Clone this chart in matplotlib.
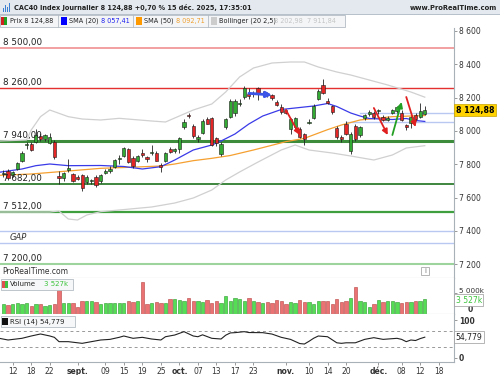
import matplotlib
matplotlib.use('Agg')
import matplotlib.pyplot as plt
from matplotlib.patches import Rectangle
import pandas as pd

# trading days on the axis (Euronext open every weekday in this span)
days = pd.bdate_range('2025-08-07', '2025-12-19')
candle_dates = pd.bdate_range('2025-08-08', '2025-12-15')

opens = [7740, 7758, 7735, 7772, 7822, 7916, 7925, 7936, 7972, 7950, 7930, 7936, 7728, 7716,
         7766, 7742, 7724, 7735, 7696, 7700, 7725, 7700, 7750, 7760, 7785, 7832, 7850, 7890,
         7840, 7822, 7870, 7846, 7868, 7870, 7796, 7822, 7894, 7880, 7890, 8026, 8096, 8030,
         7950, 7986, 8072, 8076, 7956, 7862, 8022, 8086, 8110, 8160, 8202, 8222, 8222, 8256,
         8226, 8222, 8215, 8176, 8146, 8126, 8010, 8022, 8010, 7982, 8046, 8076, 8190, 8276,
         8182, 8148, 8016, 7966, 8040, 7880, 8030, 7976, 8076, 8100, 8106, 8118, 8086, 8066,
         8106, 8120, 8110, 8036, 8050, 8096, 8085, 8105]
highs = [7765, 7770, 7760, 7812, 7878, 7935, 7932, 8010, 7990, 7985, 7990, 7945, 7760, 7755,
         7835, 7750, 7735, 7745, 7735, 7712, 7735, 7740, 7775, 7790, 7830, 7856, 7905, 7898,
         7848, 7858, 7890, 7852, 7916, 7878, 7810, 7875, 7905, 7900, 7965, 8070, 8110, 8040,
         7975, 8070, 8085, 8085, 7965, 7935, 8080, 8190, 8195, 8190, 8270, 8258, 8240, 8262,
         8240, 8232, 8225, 8185, 8160, 8135, 8078, 8085, 8025, 7990, 8070, 8160, 8250, 8310,
         8200, 8155, 8030, 7975, 8060, 7995, 8040, 8030, 8105, 8125, 8118, 8130, 8095, 8090,
         8130, 8150, 8125, 8045, 8090, 8110, 8166, 8150]
lows = [7725, 7705, 7725, 7765, 7815, 7895, 7880, 7930, 7940, 7940, 7925, 7835, 7680, 7700,
        7755, 7695, 7705, 7640, 7685, 7685, 7665, 7690, 7740, 7750, 7780, 7800, 7845, 7810,
        7780, 7815, 7845, 7815, 7856, 7818, 7756, 7815, 7868, 7870, 7870, 8015, 8080, 7960,
        7935, 7980, 8040, 7910, 7910, 7850, 8015, 8080, 8090, 8150, 8195, 8190, 8205, 8185,
        8215, 8205, 8185, 8150, 8105, 8100, 7985, 8010, 7960, 7915, 8040, 8070, 8185, 8225,
        8160, 8105, 7955, 7935, 7975, 7860, 7940, 7965, 8065, 8090, 8075, 8105, 8060, 8060,
        8100, 8110, 8060, 8005, 8020, 8060, 8080, 8095]
closes = [7748, 7716, 7752, 7806, 7870, 7925, 7888, 7976, 7955, 7975, 7966, 7842, 7716, 7746,
          7776, 7702, 7712, 7658, 7724, 7706, 7676, 7734, 7758, 7770, 7826, 7838, 7896, 7816,
          7788, 7850, 7856, 7830, 7874, 7822, 7786, 7870, 7876, 7895, 7960, 8056, 8088, 7968,
          7962, 8062, 8044, 7918, 7930, 7922, 8070, 8182, 8180, 8170, 8256, 8210, 8230, 8222,
          8229, 8218, 8200, 8156, 8116, 8110, 8070, 8076, 7966, 7950, 8056, 8150, 8242, 8230,
          8166, 8116, 7966, 7950, 7982, 7985, 7950, 8022, 8096, 8112, 8082, 8124, 8066, 8080,
          8126, 8146, 8066, 8022, 8086, 8070, 8120, 8124.88]
volumes_k = [2380, 2140, 2380, 2540, 2380, 2540, 1980, 2380, 2460, 1980, 2140, 2380, 5710, 2700,
             2700, 2600, 1590, 3170, 3010, 3170, 2780, 2380, 2700, 2700, 2700, 2700, 2540, 3170,
             2780, 3170, 7700, 2380, 2700, 2860, 2700, 2540, 3480, 3480, 3250, 3170, 3880, 3170,
             3170, 2780, 3250, 2700, 3170, 2700, 4360, 3170, 3730, 3570, 3170, 3880, 3170, 2780,
             2540, 2780, 2700, 3330, 3170, 2380, 2780, 2700, 3330, 2780, 2780, 2380, 3170, 3010,
             3010, 2380, 3570, 2780, 3170, 3730, 6500, 3170, 2780, 1590, 2380, 3330, 2860, 3010,
             3010, 2780, 2540, 2860, 2780, 3170, 3010, 3527]

sma20_dates = ['2025-08-07', '2025-08-14', '2025-08-19', '2025-08-22', '2025-08-28', '2025-09-08',
               '2025-09-15', '2025-09-19', '2025-09-25', '2025-09-30', '2025-10-06', '2025-10-10',
               '2025-10-14', '2025-10-17', '2025-10-22', '2025-10-27', '2025-10-31', '2025-11-06',
               '2025-11-11', '2025-11-14', '2025-11-18', '2025-11-21', '2025-11-25', '2025-11-27',
               '2025-12-04', '2025-12-09', '2025-12-11', '2025-12-15']
sma20 = [7752, 7772, 7792, 7802, 7792, 7793, 7787, 7772, 7786, 7826, 7886, 7916, 7940, 7982,
         8042, 8090, 8129, 8141, 8150, 8165, 8147, 8108, 8090, 8075, 8069, 8075, 8063, 8057.41]

sma50_dates = ['2025-08-07', '2025-08-18', '2025-08-28', '2025-09-08', '2025-09-16', '2025-09-25',
               '2025-09-30', '2025-10-06', '2025-10-10', '2025-10-16', '2025-10-23', '2025-11-03',
               '2025-11-07', '2025-11-14', '2025-11-19', '2025-11-25', '2025-12-04', '2025-12-15']
sma50 = [7734, 7742, 7760, 7776, 7782, 7790, 7802, 7822, 7836, 7853, 7886, 7936, 7956, 8008,
         8036, 8066, 8086, 8092.71]

bb_up_dates = ['2025-08-07', '2025-08-15', '2025-08-18', '2025-08-20', '2025-08-22', '2025-08-28',
               '2025-09-02', '2025-09-08', '2025-09-12', '2025-09-23', '2025-09-26', '2025-10-01',
               '2025-10-06', '2025-10-10', '2025-10-15', '2025-10-20', '2025-10-23', '2025-10-29',
               '2025-11-04', '2025-11-07', '2025-11-12', '2025-11-18', '2025-11-21', '2025-11-27',
               '2025-12-03', '2025-12-10', '2025-12-15']
bb_up = [7940, 7946, 8006, 8086, 8126, 8086, 8072, 8066, 8076, 8060, 8054, 8090, 8126, 8162,
         8234, 8324, 8378, 8408, 8414, 8414, 8384, 8354, 8336, 8306, 8276, 8234, 8202.98]

bb_low_dates = ['2025-08-07', '2025-08-22', '2025-08-26', '2025-08-28', '2025-09-01', '2025-09-03',
                '2025-09-08', '2025-09-12', '2025-09-23', '2025-09-30', '2025-10-06', '2025-10-10',
                '2025-10-15', '2025-10-20', '2025-10-24', '2025-10-31', '2025-11-05', '2025-11-10',
                '2025-11-17', '2025-11-21', '2025-11-28', '2025-12-04', '2025-12-09', '2025-12-15']
bb_low = [7514, 7514, 7520, 7472, 7466, 7496, 7516, 7526, 7544, 7568, 7598, 7646, 7706, 7754,
          7814, 7886, 7916, 7886, 7868, 7850, 7826, 7856, 7898, 7911.84]

rsi_dates = ['2025-08-07', '2025-08-11', '2025-08-14', '2025-08-18', '2025-08-20', '2025-08-22',
             '2025-08-25', '2025-08-26', '2025-08-28', '2025-09-02', '2025-09-04', '2025-09-08',
             '2025-09-10', '2025-09-12', '2025-09-15', '2025-09-17', '2025-09-19', '2025-09-23',
             '2025-09-25', '2025-09-26', '2025-09-30', '2025-10-02', '2025-10-06', '2025-10-07',
             '2025-10-08', '2025-10-10', '2025-10-14', '2025-10-15', '2025-10-16', '2025-10-17',
             '2025-10-21', '2025-10-22', '2025-10-27', '2025-10-29', '2025-10-31', '2025-11-04',
             '2025-11-06', '2025-11-07', '2025-11-10', '2025-11-11', '2025-11-12', '2025-11-14',
             '2025-11-18', '2025-11-19', '2025-11-20', '2025-11-24', '2025-11-26', '2025-11-28',
             '2025-12-02', '2025-12-05', '2025-12-08', '2025-12-09', '2025-12-10', '2025-12-11',
             '2025-12-12', '2025-12-15']
rsi = [52, 47.4, 51.8, 57.9, 63.2, 58, 54.4, 43, 43, 38.6, 43, 47.4, 49, 54.4, 57.9, 51.8, 54.4,
       50, 47.4, 56, 60.5, 69.3, 57.9, 56, 61, 51.8, 50, 60, 66, 66.7, 69.3, 67, 66.7, 63, 54.4,
       49, 38, 36.8, 44, 52, 57.9, 56, 40, 38.6, 40, 40, 49, 53.5, 49, 51.8, 49, 43, 47.4, 46,
       51, 54.779]

# horizontal levels drawn by the user: price, colour, width, label
level_prices = [8500, 8260, 7940, 7682, 7512, 7200]
level_colors = ['#f2a0a0', '#e53030', '#3c8c3c', '#2f7d2f', '#3f9f3f', '#9dd49d']
level_widths = [1.4, 1.0, 2.2, 1.3, 1.6, 1.5]
level_labels = ['8 500,00', '8 260,00', '7 940,00', '7 682,00', '7 512,00', '7 200,00']
gap_prices = [7400, 7326]
short_line_dates = ['2025-11-25', '2025-11-20']
short_line_prices = [8108, 8052]

arrow_from = [('2025-10-22', 8226), ('2025-11-03', 8126), ('2025-11-28', 8138),
              ('2025-12-04', 7976), ('2025-12-09', 8204)]
arrow_to = [('2025-10-29', 8216), ('2025-11-06', 7976), ('2025-12-03', 7976),
            ('2025-12-08', 8174), ('2025-12-11', 8024)]
arrow_colors = ['#3a55e8', '#e02020', '#e02020', '#23a023', '#e02020']
arrow_widths = [2.0, 1.3, 1.3, 1.3, 1.3]

tick_dates = ['2025-08-12', '2025-08-18', '2025-08-22', '2025-09-01', '2025-09-09', '2025-09-15',
              '2025-09-19', '2025-09-25', '2025-10-01', '2025-10-07', '2025-10-13', '2025-10-17',
              '2025-10-23', '2025-11-03', '2025-11-10', '2025-11-14', '2025-11-20', '2025-12-01',
              '2025-12-08', '2025-12-12', '2025-12-18']
tick_labels = ['12', '18', '22', 'sept.', '09', '15', '19', '25', 'oct.', '07', '13', '17', '23',
               'nov.', '10', '14', '20', 'déc.', '08', '12', '18']


def pos(dates):
    return days.get_indexer(pd.to_datetime(dates))


def fpx(x, y):
    return x / 500, 1 - y / 375


def box(fig, x, y, w, h, fc, ec='none', lw=0.6, z=3):
    fig.add_artist(Rectangle((x / 500, 1 - (y + h) / 375), w / 500, h / 375,
                             transform=fig.transFigure, facecolor=fc, edgecolor=ec,
                             linewidth=lw, zorder=z))


def main():
    W, H = 500, 375
    fig = plt.figure(figsize=(5, 3.75), dpi=100)
    fig.patch.set_facecolor('white')
    ax = fig.add_axes([0, 1 - 278 / H, 454 / W, 250 / H])
    axv = fig.add_axes([0, 1 - 314 / H, 454 / W, 36 / H], sharex=ax)
    axr = fig.add_axes([0, 1 - 362 / H, 454 / W, 48 / H], sharex=ax)

    x = pos(candle_dates)
    up = [c >= o for o, c in zip(opens, closes)]
    body_col = ['#33aa33' if u else '#e52626' for u in up]

    # price panel
    for p, c, lw in zip(level_prices, level_colors, level_widths):
        ax.axhline(p, color=c, lw=lw, zorder=1)
    for p in gap_prices:
        ax.axhline(p, color='#b8c8f0', lw=1.0, zorder=1)
    for d, p in zip(short_line_dates, short_line_prices):
        ax.plot([pos([d])[0], 200], [p, p], color='#b8c8f0', lw=1.0, zorder=1)

    ax.plot(pos(bb_up_dates), bb_up, color='#d0d0d0', lw=0.9, zorder=2)
    ax.plot(pos(bb_low_dates), bb_low, color='#d0d0d0', lw=0.9, zorder=2)
    ax.plot(pos(sma50_dates), sma50, color='#f5a030', lw=0.9, zorder=2)
    ax.plot(pos(sma20_dates), sma20, color='#3a3ae8', lw=0.9, zorder=2)

    ax.vlines(x, lows, highs, color='#222222', lw=0.6, zorder=3)
    bottoms = [min(o, c) for o, c in zip(opens, closes)]
    heights = [max(abs(c - o), 3) for o, c in zip(opens, closes)]
    ax.bar(x, heights, bottom=bottoms, width=0.7, color=body_col, edgecolor='#1a1a1a',
           linewidth=0.4, zorder=4)

    for (d0, p0), (d1, p1), c, lw in zip(arrow_from, arrow_to, arrow_colors, arrow_widths):
        ax.annotate('', xy=(pos([d1])[0], p1), xytext=(pos([d0])[0], p0), zorder=5,
                    arrowprops=dict(arrowstyle='-|>', color=c, lw=lw, mutation_scale=8,
                                    shrinkA=0, shrinkB=0))

    ytr = ax.get_yaxis_transform()
    for p, lab in zip(level_prices, level_labels):
        ax.text(3 / 454, p + 6, lab, transform=ytr, fontsize=6.3, color='#222222',
                va='bottom', ha='left', zorder=6)
    ax.text(10 / 454, sum(gap_prices) / 2, 'GAP', transform=ytr, fontsize=6, style='italic',
            color='#333333', va='center', zorder=6)

    ax.set_ylim(7118, 8618)
    ax.set_yticks([7200, 7400, 7600, 7800, 8000, 8200, 8400, 8600])
    ax.set_yticklabels(['7 200', '7 400', '7 600', '7 800', '8 000', '8 200', '8 400', '8 600'])
    ax.text(1.004, closes[-1], '8 124,88', transform=ax.get_yaxis_transform(), fontsize=5.6,
            fontweight='bold', va='center', ha='left', clip_on=False, zorder=10,
            bbox=dict(boxstyle='square,pad=0.18', fc='#ffd200', ec='#c9a400', lw=0.5))

    # volume panel
    vcol = ['#55dd55' if u else '#ea7272' for u in up]
    vedge = ['#2c9a2c' if u else '#b84040' for u in up]
    axv.bar(x, volumes_k, width=0.72, color=vcol, edgecolor=vedge, linewidth=0.4)
    axv.set_ylim(0, 8571)
    axv.set_yticks([5000])
    axv.set_yticklabels([''])
    axv.text(1.012, 5400, '5 000k', transform=axv.get_yaxis_transform(), fontsize=5.2,
             color='#333333', va='center', clip_on=False)
    axv.text(1.03, 0, '0', transform=axv.get_yaxis_transform(), fontsize=5.5,
             color='#333333', va='bottom', fontweight='bold', clip_on=False)
    axv.text(1.004, volumes_k[-1] - 200, '3 527k', transform=axv.get_yaxis_transform(),
             fontsize=5.5, color='#3cc43c', va='center', ha='left', clip_on=False, zorder=10,
             bbox=dict(boxstyle='square,pad=0.18', fc='white', ec='#999999', lw=0.5))

    # RSI panel
    axr.axhline(70, color='#999999', lw=0.7, ls=(0, (3, 3)))
    axr.axhline(30, color='#999999', lw=0.7, ls=(0, (3, 3)))
    axr.plot(pos(rsi_dates), rsi, color='#222222', lw=0.8)
    axr.set_ylim(-10.53, 115.8)
    axr.set_yticks([0, 100])
    axr.set_yticklabels(['0', '100'], fontweight='bold')
    axr.text(1.004, rsi[-1], '54,779', transform=axr.get_yaxis_transform(), fontsize=5.5,
             color='#222222', va='center', ha='left', clip_on=False, zorder=10,
             bbox=dict(boxstyle='square,pad=0.18', fc='white', ec='#999999', lw=0.5))

    axr.set_xlim(0.257, 98.31)
    axr.set_xticks(pos(tick_dates))
    axr.set_xticklabels(tick_labels)
    for t, lab in zip(axr.get_xticklabels(), tick_labels):
        if not lab[0].isdigit():
            t.set_fontweight('bold')

    for a in (ax, axv, axr):
        a.set_facecolor('white')
        a.yaxis.tick_right()
        a.tick_params(axis='y', direction='out', length=2, width=0.6, colors='#888888',
                      labelcolor='#333333', labelsize=5.5, pad=1.5)
        for s in ('top', 'left'):
            a.spines[s].set_visible(False)
        a.spines['right'].set_color('#a8b0b8')
        a.spines['right'].set_linewidth(0.8)
        a.spines['bottom'].set_color('#a8b0b8')
        a.spines['bottom'].set_linewidth(0.8)
    ax.tick_params(axis='x', bottom=False, labelbottom=False)
    axv.tick_params(axis='x', bottom=False, labelbottom=False)
    axr.tick_params(axis='x', direction='out', length=2, width=0.6, colors='#888888',
                    labelcolor='#333333', labelsize=5.5, pad=1.5)

    # header bar and legend
    box(fig, 0, 0, 500, 14, '#e3e9ef', z=1)
    fig.add_artist(plt.Line2D([0, 1], [1 - 14 / H] * 2, color='#aab6c2', lw=0.6,
                              transform=fig.transFigure))
    for i, hgt in enumerate([4, 7, 5, 9]):
        box(fig, 3 + i * 2, 12 - hgt, 1.2, hgt, '#3d7fd0', z=4)
    fig.text(*fpx(14, 7.5), 'CAC40 Index Journalier 8 124,88 +0,70 % 15 déc. 2025, 17:35:01',
             fontsize=4.7, fontweight='bold', color='#222222', va='center', ha='left')
    fig.text(*fpx(497, 7.5), 'www.ProRealTime.com', fontsize=4.9, fontweight='bold',
             color='#222222', va='center', ha='right')

    box(fig, 0, 15, 345, 12, '#f3f5f7', ec='#b4bcc4', z=2)
    for sx in (58, 133, 208):
        fig.add_artist(plt.Line2D([sx / W] * 2, [1 - 15 / H, 1 - 27 / H], color='#b4bcc4',
                                  lw=0.6, transform=fig.transFigure))
    box(fig, 1, 17, 3, 8, '#d02020', z=4)
    box(fig, 4, 17, 3, 8, '#20a020', z=4)
    fig.text(*fpx(10, 21), 'Prix 8 124,88', fontsize=4.7, color='#222222', va='center')
    box(fig, 61, 17, 6, 8, '#0000ff', z=4)
    fig.text(*fpx(69, 21), 'SMA (20)', fontsize=4.7, color='#222222', va='center')
    fig.text(*fpx(101, 21), '8 057,41', fontsize=4.7, color='#2222ee', va='center')
    box(fig, 136, 17, 6, 8, '#ff9900', z=4)
    fig.text(*fpx(144, 21), 'SMA (50)', fontsize=4.7, color='#222222', va='center')
    fig.text(*fpx(176, 21), '8 092,71', fontsize=4.7, color='#f0a030', va='center')
    box(fig, 211, 17, 6, 8, '#cccccc', z=4)
    fig.text(*fpx(219, 21), 'Bollinger (20 2,5)', fontsize=4.7, color='#222222', va='center')
    fig.text(*fpx(274, 21), '8 202,98  7 911,84', fontsize=4.7, color='#c4c4c4', va='center')

    fig.text(*fpx(2, 272), 'ProRealTime.com', fontsize=5.5, color='#333333', va='center')
    box(fig, 421, 267, 8, 8, 'white', ec='#aaaaaa', z=4)
    fig.text(*fpx(425, 271), 'i', fontsize=5, color='#777777', va='center', ha='center',
             zorder=5)

    box(fig, 1, 279, 72, 11, '#f6f7f8', ec='#b4bcc4', z=4)
    box(fig, 2, 281, 3, 7, '#e05050', z=5)
    box(fig, 5, 281, 3, 7, '#40c040', z=5)
    fig.text(*fpx(10, 284.5), 'Volume', fontsize=5, color='#222222', va='center', zorder=6)
    fig.text(*fpx(44, 284.5), '3 527k', fontsize=5, color='#3cc43c', va='center', zorder=6)
    box(fig, 1, 316, 74, 11, '#f6f7f8', ec='#b4bcc4', z=4)
    box(fig, 2, 318, 6, 7, '#111111', z=5)
    fig.text(*fpx(10, 321.5), 'RSI (14) 54,779', fontsize=5, color='#222222', va='center',
             zorder=6)

    fig.savefig('out.png', dpi=100, facecolor='white')


if __name__ == '__main__':
    main()
